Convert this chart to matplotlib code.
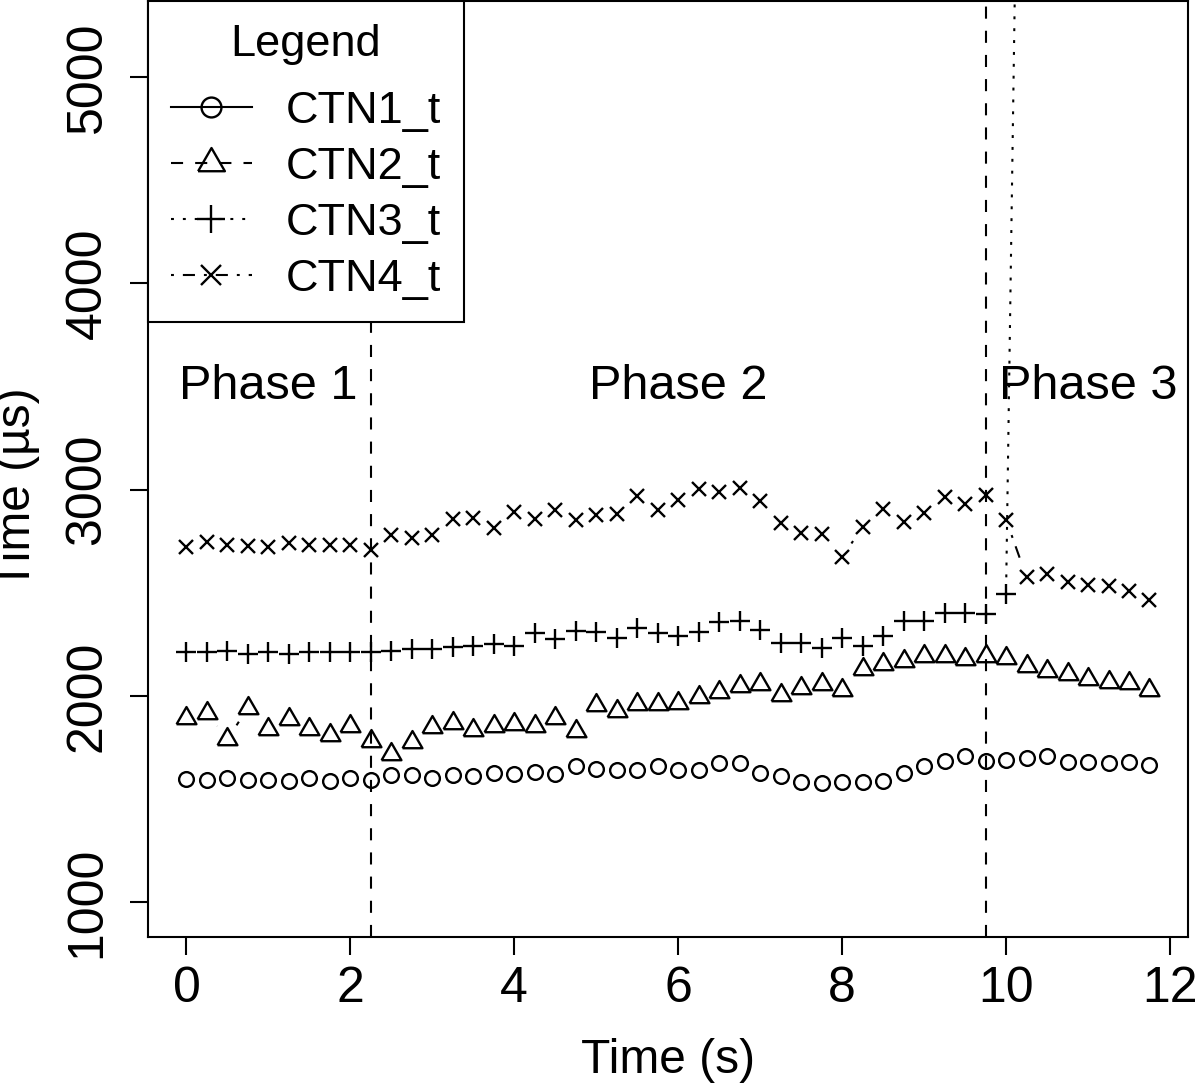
import numpy as np
import matplotlib
matplotlib.use("Agg")
import matplotlib.pyplot as plt
from matplotlib.lines import Line2D

# time axis (s), one sample every 0.25 s
times = np.arange(48) * 0.25

ctn1 = [1597, 1593, 1603, 1592, 1595, 1587, 1603, 1587, 1603, 1595, 1615, 1619,
        1603, 1619, 1612, 1625, 1624, 1631, 1624, 1659, 1644, 1642, 1641, 1659,
        1641, 1641, 1675, 1674, 1629, 1610, 1585, 1578, 1582, 1584, 1589, 1626,
        1662, 1683, 1710, 1683, 1690, 1697, 1710, 1678, 1678, 1674, 1678, 1665]
ctn2 = [1892, 1917, 1791, 1942, 1841, 1890, 1841, 1813, 1853, 1783, 1718, 1777,
        1849, 1867, 1837, 1856, 1866, 1854, 1891, 1830, 1954, 1927, 1959, 1959,
        1966, 1997, 2019, 2047, 2056, 2003, 2040, 2058, 2031, 2129, 2153, 2171,
        2196, 2196, 2179, 2196, 2186, 2147, 2123, 2105, 2084, 2068, 2063, 2031]
ctn3 = [2212, 2212, 2220, 2204, 2212, 2204, 2214, 2214, 2212, 2212, 2220, 2228,
        2228, 2236, 2244, 2254, 2241, 2306, 2277, 2317, 2309, 2280, 2328, 2306,
        2293, 2309, 2357, 2365, 2322, 2257, 2257, 2233, 2280, 2240, 2289, 2362,
        2362, 2400, 2400, 2396, 2495, 9300, 9250, 9200, 9250, 9150, 9200, 9100]
ctn4 = [2721, 2745, 2733, 2725, 2721, 2743, 2730, 2733, 2733, 2705, 2778, 2765,
        2781, 2859, 2862, 2813, 2892, 2859, 2899, 2851, 2879, 2883, 2969, 2899,
        2952, 3001, 2988, 3008, 2943, 2838, 2791, 2786, 2673, 2819, 2904, 2843,
        2888, 2964, 2932, 2976, 2855, 2576, 2592, 2554, 2539, 2535, 2511, 2467]

labels = ["CTN1_t", "CTN2_t", "CTN3_t", "CTN4_t"]
phase_bounds = [2.25, 9.75]
phase_names = ["Phase 1", "Phase 2", "Phase 3"]
phase_x = [1.0, 6.0, 11.0]
phase_y = 3500

plt.rcParams['font.family'] = ['Liberation Sans', 'DejaVu Sans']
narrow = ['Liberation Sans Narrow', 'Liberation Sans', 'DejaVu Sans']

tri = [(-1, -0.577), (1, -0.577), (0, 1.155), (-1, -0.577)]
styles = [
    dict(marker='o', ms=10.6, dashes=None),
    dict(marker=tri, ms=16.5, dashes=(5.8, 5.8)),
    dict(marker='+', ms=15, dashes=(1.4, 4.3)),
    dict(marker='x', ms=10.6, dashes=(1.4, 4.3, 5.8, 4.3)),
]

fig = plt.figure(figsize=(12, 10.87), dpi=100)
ax = fig.add_axes([0.1233, 0.138, 0.8667, 0.8611])
ax.set_xlim(-0.47, 12.22)
ax.set_ylim(832, 5368)

lw = 1.5
gap = 16.5  # pixels left free round each point, like R type="b"


def gapped(x, y):
    pts = ax.transData.transform(np.column_stack([x, y]))
    inv = ax.transData.inverted()
    segs = []
    for p0, p1 in zip(pts[:-1], pts[1:]):
        d = p1 - p0
        L = np.hypot(d[0], d[1])
        if L <= 2 * gap:
            continue
        u = d / L
        segs.append(inv.transform([p0 + u * gap, p1 - u * gap]))
    return segs


series = [ctn1, ctn2, ctn3, ctn4]
for vals, st in zip(series, styles):
    for s in gapped(times, vals):
        ln, = ax.plot(s[:, 0], s[:, 1], color='black', lw=lw,
                      solid_capstyle='butt', dash_capstyle='butt')
        if st['dashes']:
            ln.set_dashes(st['dashes'])
    ax.plot(times, vals, ls='none', marker=st['marker'], ms=st['ms'],
            mfc='none', mec='black', mew=1.7)

for xb in phase_bounds:
    ax.axvline(xb, color='black', lw=lw, dashes=(5.8, 5.8), dash_capstyle='butt')

for name, px in zip(phase_names, phase_x):
    ax.text(px, phase_y, name, ha='center', va='center', fontsize=35)

handles = []
for st in styles:
    h = Line2D([], [], color='black', lw=lw, marker=st['marker'], ms=st['ms'] * 1.35,
               mfc='none', mec='black', mew=1.7, dash_capstyle='butt')
    if st['dashes']:
        h.set_dashes(st['dashes'])
    handles.append(h)
leg = ax.legend(handles, labels, title="Legend", loc='upper left',
                bbox_to_anchor=(0, 1), borderaxespad=0, fontsize=32.5,
                title_fontsize=32.5, fancybox=False, framealpha=1,
                edgecolor='black', handlelength=1.8, handletextpad=0.75,
                labelspacing=0.33, borderpad=0.5)
leg.get_frame().set_linewidth(1.5)
leg.set_zorder(10)
# a bit more room under the title, as in the reference
leg._legend_box.sep = 19

ax.set_xticks([0, 2, 4, 6, 8, 10, 12])
ax.set_yticks([1000, 2000, 3000, 4000, 5000])
ax.tick_params(direction='out', length=13, width=1.5, pad=8)
ax.tick_params(axis='y', pad=14)
for t in ax.get_xticklabels():
    t.set_family(narrow)
    t.set_fontsize(36)
for t in ax.get_yticklabels():
    t.set_family(narrow)
    t.set_fontsize(36)
    t.set_rotation(90)
    t.set_va('center')

for sp in ax.spines.values():
    sp.set_linewidth(1.5)

ax.set_xlabel("Time (s)", fontsize=34.5)
ax.set_ylabel("Time (µs)", fontsize=34.5)
ax.xaxis.set_label_coords(0.5, -0.108)
ax.yaxis.set_label_coords(-0.104, 0.48)

fig.savefig("out.png", dpi=100)
